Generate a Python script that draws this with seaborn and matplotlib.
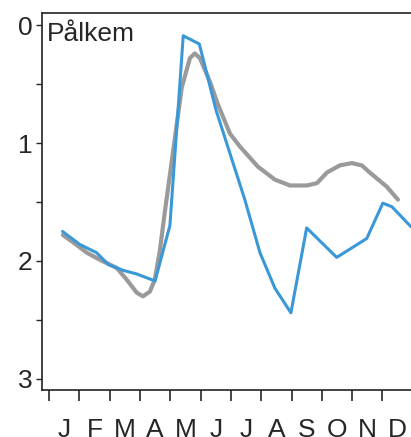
import numpy as np
import pandas as pd
import matplotlib
matplotlib.use('Agg')
import matplotlib.pyplot as plt
import seaborn as sns
from matplotlib.ticker import FixedLocator

# x positions in months from 1 January, y values (axis is inverted)
obs_month = [0.45, 1.02, 1.57, 1.96, 2.45, 2.89, 3.50, 3.99, 4.43, 4.96,
             5.51, 6.46, 6.96, 7.45, 7.98, 8.50, 9.49, 10.48, 11.01, 11.31, 11.94]
obs_value = [1.75, 1.86, 1.93, 2.03, 2.08, 2.11, 2.17, 1.70, 0.09, 0.16,
             0.72, 1.48, 1.93, 2.23, 2.44, 1.72, 1.97, 1.81, 1.51, 1.54, 1.71]

clim_month = [0.46, 0.79, 1.25, 1.68, 2.24, 2.57, 2.90, 3.10, 3.33, 3.49,
              3.66, 3.82, 4.09, 4.38, 4.65, 4.81, 4.98, 5.31, 5.57, 5.97,
              6.30, 6.89, 7.45, 7.95, 8.51, 8.84, 9.17, 9.59, 9.99, 10.32,
              10.58, 11.14, 11.51]
clim_value = [1.78, 1.84, 1.93, 1.99, 2.06, 2.16, 2.27, 2.30, 2.26, 2.16,
              1.91, 1.59, 1.08, 0.53, 0.28, 0.24, 0.28, 0.48, 0.67, 0.92,
              1.03, 1.20, 1.31, 1.36, 1.36, 1.34, 1.25, 1.19, 1.17, 1.19,
              1.25, 1.37, 1.48]

month_labels = ["J", "F", "M", "A", "M", "J", "J", "A", "S", "O", "N", "D"]
station = "Pålkem"

obs = pd.DataFrame({"month": obs_month, "value": obs_value})
clim = pd.DataFrame({"month": clim_month, "value": clim_value})

sns.set_style("ticks")
plt.rcParams['font.family'] = ['Liberation Sans', 'DejaVu Sans']

fig = plt.figure(figsize=(4.11, 4.37), dpi=100)
ax = fig.add_axes([0.102, 0.108, 0.898, 0.862])

sns.lineplot(data=clim, x="month", y="value", color="#9a9a9a", linewidth=3.0,
             estimator=None, sort=False, ax=ax)
sns.lineplot(data=obs, x="month", y="value", color="#3b98d8", linewidth=2.2,
             estimator=None, sort=False, ax=ax)

ax.set_xlim(-0.23, 11.94)
ax.set_ylim(3.093, -0.102)

ax.spines["right"].set_visible(False)
for side in ["left", "top", "bottom"]:
    ax.spines[side].set_linewidth(1.2)
    ax.spines[side].set_color("#222222")

# y ticks
ax.yaxis.set_major_locator(FixedLocator([0, 1, 2, 3]))
ax.yaxis.set_minor_locator(FixedLocator([0.5, 1.5, 2.5]))
ax.set_yticklabels(["0", "1", "2", "3"])
ax.tick_params(axis="y", which="both", length=4, width=1, pad=3, labelsize=19)

# x ticks: boundaries as lines, labels centred in each month
ax.xaxis.set_major_locator(FixedLocator(np.arange(0, 12)))
ax.xaxis.set_minor_locator(FixedLocator(np.arange(12) + 0.5))
ax.set_xticklabels([""] * 12)
ax.set_xticklabels(month_labels, minor=True)
ax.tick_params(axis="x", which="major", length=8, width=1.2)
ax.tick_params(axis="x", which="minor", length=0, pad=20, labelsize=19)

ax.set_xlabel("")
ax.set_ylabel("")

ax.text(0.013, 0.926, station, transform=ax.transAxes, fontsize=19,
        ha="left", va="baseline")

fig.savefig("out.png", dpi=100)
plt.close(fig)
